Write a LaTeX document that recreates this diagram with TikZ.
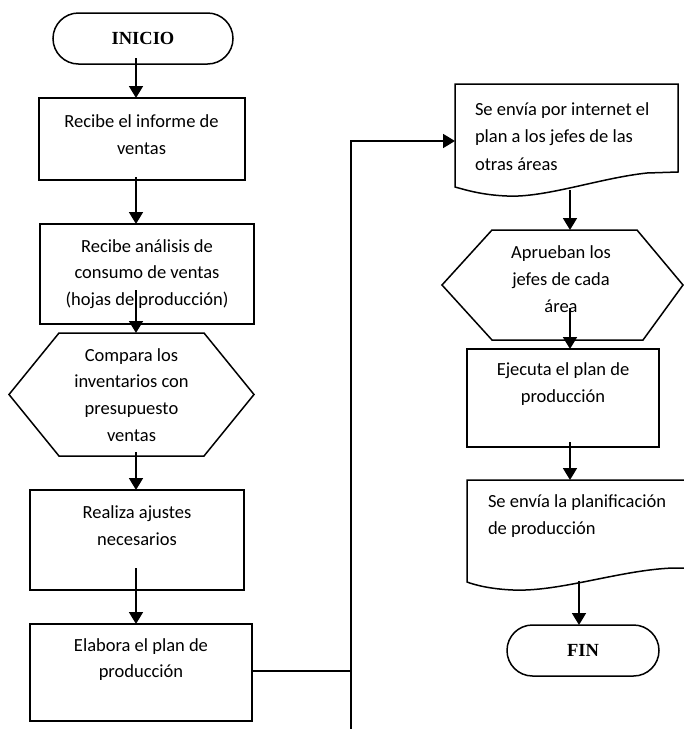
\documentclass[tikz,border=0pt]{standalone}
\usepackage{fontspec}
\setmainfont{Carlito}
\newfontfamily\termfont{Liberation Serif}
\usetikzlibrary{shapes.misc,arrows.meta}

\tikzset{
  every node/.style={inner sep=0pt, outer sep=0pt},
  box/.style={draw, line width=1.5pt, rectangle},
  frame/.style={rectangle},
  shapeline/.style={line width=1.5pt, line join=miter},
  term/.style={draw, line width=1.5pt, rounded rectangle,
    font=\termfont\bfseries\fontsize{18.5}{22}\selectfont},
  txt/.style={align=center, font=\fontsize{18.5}{26.8}\selectfont},
  ltxt/.style={align=left, anchor=west, font=\fontsize{18.5}{27.5}\selectfont},
  conn/.style={line width=1.8pt},
  arr/.style={line width=1.8pt, -{Triangle[width=14pt,length=12pt]}},
}

\begin{document}
\begin{tikzpicture}[x=1pt, y=-1pt]
\useasboundingbox (0,0) rectangle (684,729);

% ---- left column ----
\node[term, minimum width=180pt, minimum height=51pt] (ini) at (143,38.5) {INICIO};

\node[box, minimum width=206pt, minimum height=82pt] (r1) at (142,139) {};
\node[txt] (r1t) at (141.5,134.5) {Recibe el informe de\\ventas};

\node[box, minimum width=214pt, minimum height=100pt] (r2) at (147,274) {};
\node[txt] (r2t) at (147,274) {Recibe análisis de\\consumo de ventas\\(hojas de producción)};

\node[frame, minimum width=245pt, minimum height=123pt] (hx1) at (131.5,394.5) {};
\draw[shapeline] ([xshift=50pt]hx1.north west) -- ([xshift=-50pt]hx1.north east)
  -- (hx1.east) -- ([xshift=-50pt]hx1.south east) -- ([xshift=50pt]hx1.south west)
  -- (hx1.west) -- cycle;
\node[txt] (hx1t) at (131.5,395) {Compara los\\inventarios con\\presupuesto\\ventas};

\node[box, minimum width=214pt, minimum height=100pt] (r3) at (137,540) {};
\node[txt] (r3t) at (137,526) {Realiza ajustes\\necesarios};

\node[box, minimum width=222pt, minimum height=97pt] (r4) at (141,672.5) {};
\node[txt] (r4t) at (141,659.5) {Elabora el plan de\\producción};

% ---- right column ----
\node[frame, minimum width=223pt, minimum height=103pt] (doc1) at (566.5,135.5) {};
\draw[shapeline] (doc1.south west) -- (doc1.north west) -- (doc1.north east)
  -- (678,172) -- (647,173)
  .. controls (600,178) and (545,198) .. (507,196)
  .. controls (482,195) and (466,190) .. (doc1.south west) -- cycle;
\node[ltxt] (doc1t) at (475,136.5) {Se envía por internet el\\plan a los jefes de las\\otras áreas};

\node[frame, minimum width=241pt, minimum height=110pt] (hx2) at (562.5,285) {};
\draw[shapeline] ([xshift=50pt]hx2.north west) -- ([xshift=-46pt]hx2.north east)
  -- (hx2.east) -- ([xshift=-40pt]hx2.south east) -- ([xshift=50pt]hx2.south west)
  -- (hx2.west) -- cycle;
\node[txt] (hx2t) at (561,279) {Aprueban los\\jefes de cada\\área};

\node[box, minimum width=192pt, minimum height=98pt] (r5) at (563,398) {};
\node[txt] (r5t) at (563,384) {Ejecuta el plan de\\producción};

\node[frame, minimum width=218pt, minimum height=102pt] (doc2) at (576,531) {};
\draw[shapeline] (doc2.south west) -- (doc2.north west) -- (doc2.north east)
  -- (685,568) -- (673,568)
  .. controls (620,570) and (560,592) .. (513,590)
  .. controls (490,589) and (475,585) .. (doc2.south west) -- cycle;
\node[ltxt] (doc2t) at (488,516) {Se envía la planificación\\de producción};

\node[term, minimum width=152pt, minimum height=51pt] (fin) at (583,650.5) {FIN};

% ---- connectors ----
\coordinate (colL) at (136,0);
\coordinate (colR) at (570,0);
\coordinate (colF) at (579,0);

\draw[arr] ([yshift=6pt]ini.south -| colL) -- (r1.north -| colL);
\draw[arr] ([yshift=3pt]r1.south -| colL) -- (r2.north -| colL);
\draw[arr] ([yshift=34pt]r2.south -| colL) -- (hx1.north -| colL);
\draw[arr] ([yshift=4pt]hx1.south -| colL) -- (r3.north -| colL);
\draw[arr] ([yshift=22pt]r3.south -| colL) -- (r4.north -| colL);

\coordinate (busbot) at (351,729);
\coordinate (bustop) at (351,141);
\coordinate (busjoin) at (351,671);
\draw[conn] (r4.east |- busjoin) -- (busjoin);
\draw[arr] (busbot) -- (bustop) -- (doc1.west |- bustop);

\draw[arr] ([yshift=-3pt]doc1.south -| colR) -- (hx2.north -| colR);
\draw[arr] ([yshift=32pt]hx2.south -| colR) -- (r5.north -| colR);
\draw[arr] ([yshift=5pt]r5.south -| colR) -- (doc2.north -| colR);
\draw[arr] ([yshift=1pt]doc2.south -| colF) -- (fin.north -| colF);
\end{tikzpicture}
\end{document}
